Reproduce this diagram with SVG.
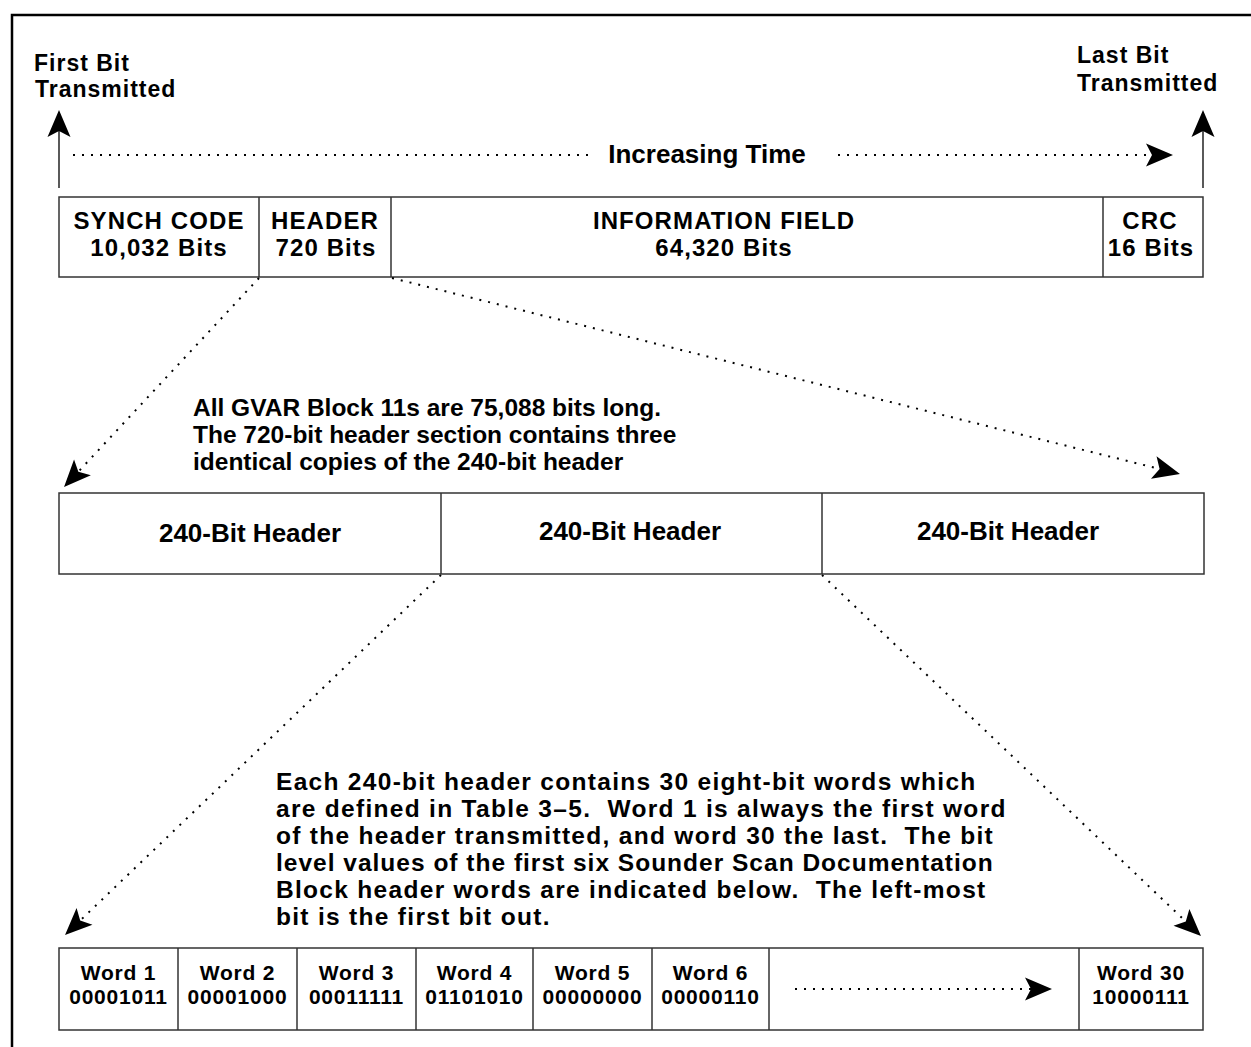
<svg xmlns="http://www.w3.org/2000/svg" width="1251" height="1047" viewBox="0 0 1251 1047">
<style>
.t{font-family:"Liberation Sans",Arial,sans-serif;font-weight:bold;fill:#000}
.lbl{font-size:23px;letter-spacing:1px}
.box{font-size:26px;text-anchor:middle}
.tb{font-size:24px;letter-spacing:1.1px;text-anchor:middle}
.p1{font-size:24.5px}
.p3{font-size:24.5px;letter-spacing:1.3px}
.w{font-size:21px;letter-spacing:0.8px;text-anchor:middle}
.cell{fill:#fff;stroke:#333;stroke-width:1.5}
.div{stroke:#333;stroke-width:1.5}
.dot{fill:none;stroke:#000;stroke-width:2;stroke-dasharray:2 7}
.solid{fill:none;stroke:#000;stroke-width:1.3}
</style>
<defs>
<marker id="ah" markerUnits="userSpaceOnUse" viewBox="-20 -12 30 24" refX="0" refY="0" markerWidth="30" markerHeight="24" orient="auto">
<path d="M8,0 L-19,-11.5 L-13,0 L-19,11.5 Z" fill="#000"/>
</marker>
</defs>
<rect width="1251" height="1047" fill="#fff"/>
<path d="M12,1047 V15 H1251" fill="none" stroke="#000" stroke-width="2.5"/>

<g id="first-bit">
<text class="t lbl" x="34" y="71">First Bit</text>
<text class="t lbl" x="35" y="97">Transmitted</text>
</g>
<g id="last-bit">
<text class="t lbl" x="1077" y="63">Last Bit</text>
<text class="t lbl" x="1077" y="91">Transmitted</text>
</g>
<g id="increasing-time">
<text class="t box" x="707" y="163">Increasing Time</text>
</g>

<g id="block11">
<rect class="cell" x="59" y="197" width="1144" height="80"/>
<line class="div" x1="259" y1="197" x2="259" y2="277"/>
<line class="div" x1="391" y1="197" x2="391" y2="277"/>
<line class="div" x1="1103" y1="197" x2="1103" y2="277"/>
<text class="t tb" x="159" y="229">SYNCH CODE</text>
<text class="t tb" x="159" y="256">10,032 Bits</text>
<text class="t tb" x="325" y="229">HEADER</text>
<text class="t tb" x="326" y="256">720 Bits</text>
<text class="t tb" x="724" y="229">INFORMATION FIELD</text>
<text class="t tb" x="724" y="256">64,320 Bits</text>
<text class="t tb" x="1150" y="229">CRC</text>
<text class="t tb" x="1151" y="256">16 Bits</text>
</g>

<g id="note-block">
<text class="t p1" x="193" y="416">All GVAR Block 11s are 75,088 bits long.</text>
<text class="t p1" x="193" y="443">The 720-bit header section contains three</text>
<text class="t p1" x="193" y="470">identical copies of the 240-bit header</text>
</g>

<g id="headers">
<rect class="cell" x="59" y="493" width="1145" height="81"/>
<line class="div" x1="441" y1="493" x2="441" y2="574"/>
<line class="div" x1="822" y1="493" x2="822" y2="574"/>
<text class="t box" x="250" y="542">240-Bit Header</text>
<text class="t box" x="630" y="540">240-Bit Header</text>
<text class="t box" x="1008" y="540">240-Bit Header</text>
</g>

<g id="note-header">
<text class="t p3" x="276" y="790">Each 240-bit header contains 30 eight-bit words which</text>
<text class="t p3" x="276" y="817" xml:space="preserve">are defined in Table 3–5.  Word 1 is always the first word</text>
<text class="t p3" x="276" y="844" xml:space="preserve">of the header transmitted, and word 30 the last.  The bit</text>
<text class="t p3" x="276" y="871" textLength="718">level values of the first six Sounder Scan Documentation</text>
<text class="t p3" x="276" y="898" xml:space="preserve">Block header words are indicated below.  The left-most</text>
<text class="t p3" x="276" y="925">bit is the first bit out.</text>
</g>

<g id="words">
<rect class="cell" x="59" y="948" width="1144" height="82"/>
<line class="div" x1="178" y1="948" x2="178" y2="1030"/>
<line class="div" x1="297" y1="948" x2="297" y2="1030"/>
<line class="div" x1="416" y1="948" x2="416" y2="1030"/>
<line class="div" x1="533" y1="948" x2="533" y2="1030"/>
<line class="div" x1="652" y1="948" x2="652" y2="1030"/>
<line class="div" x1="769" y1="948" x2="769" y2="1030"/>
<line class="div" x1="1079" y1="948" x2="1079" y2="1030"/>
<text class="t w" x="118.5" y="980">Word 1</text>
<text class="t w" x="118.5" y="1004">00001011</text>
<text class="t w" x="237.5" y="980">Word 2</text>
<text class="t w" x="237.5" y="1004">00001000</text>
<text class="t w" x="356.5" y="980">Word 3</text>
<text class="t w" x="356.5" y="1004">00011111</text>
<text class="t w" x="474.5" y="980">Word 4</text>
<text class="t w" x="474.5" y="1004">01101010</text>
<text class="t w" x="592.5" y="980">Word 5</text>
<text class="t w" x="592.5" y="1004">00000000</text>
<text class="t w" x="710.5" y="980">Word 6</text>
<text class="t w" x="710.5" y="1004">00000110</text>
<text class="t w" x="1141" y="980">Word 30</text>
<text class="t w" x="1141" y="1004">10000111</text>
</g>

<g id="connectors">
<line class="solid" x1="59" y1="188" x2="59" y2="118" marker-end="url(#ah)"/>
<line class="solid" x1="1203" y1="188" x2="1203" y2="118" marker-end="url(#ah)"/>
<line class="dot" x1="73" y1="155" x2="595" y2="155"/>
<line class="dot" x1="838" y1="155" x2="1165" y2="155" marker-end="url(#ah)"/>
<line class="dot" x1="259" y1="278" x2="69.5" y2="481.2" marker-end="url(#ah)"/>
<line class="dot" x1="392" y1="278" x2="1172.2" y2="472.1" marker-end="url(#ah)"/>
<line class="dot" x1="441" y1="575" x2="70.8" y2="929.5" marker-end="url(#ah)"/>
<line class="dot" x1="822" y1="575" x2="1195.2" y2="930.5" marker-end="url(#ah)"/>
<line class="dot" x1="795" y1="989" x2="1044" y2="989" marker-end="url(#ah)"/>
</g>
</svg>
